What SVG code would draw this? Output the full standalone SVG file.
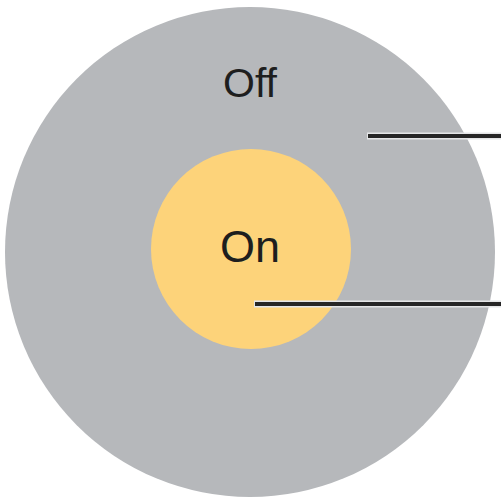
<svg xmlns="http://www.w3.org/2000/svg" width="501" height="497" viewBox="0 0 501 497">
<style>
.lbl{font-family:"Liberation Sans",Arial,sans-serif;fill:#1e1e1e;text-anchor:middle}
.halo{stroke:#e4e5e7;stroke-width:7;fill:none}
.lead{stroke:#262626;stroke-width:4;fill:none}
</style>
<rect width="501" height="497" fill="#ffffff"/>
<g id="off">
<circle cx="250" cy="252" r="245" fill="#b6b8bb"/>
<text class="lbl" x="250" y="97" font-size="41">Off</text>
</g>
<g id="on">
<circle cx="251" cy="249" r="100" fill="#fdd37a"/>
<text class="lbl" x="250" y="262" font-size="45">On</text>
</g>
<g id="connectors">
<line class="halo" x1="367" y1="136" x2="501" y2="136"/>
<line class="lead" x1="368" y1="136" x2="501" y2="136"/>
<line class="halo" x1="254" y1="304" x2="501" y2="304"/>
<line class="lead" x1="255" y1="304" x2="501" y2="304"/>
</g>
</svg>
